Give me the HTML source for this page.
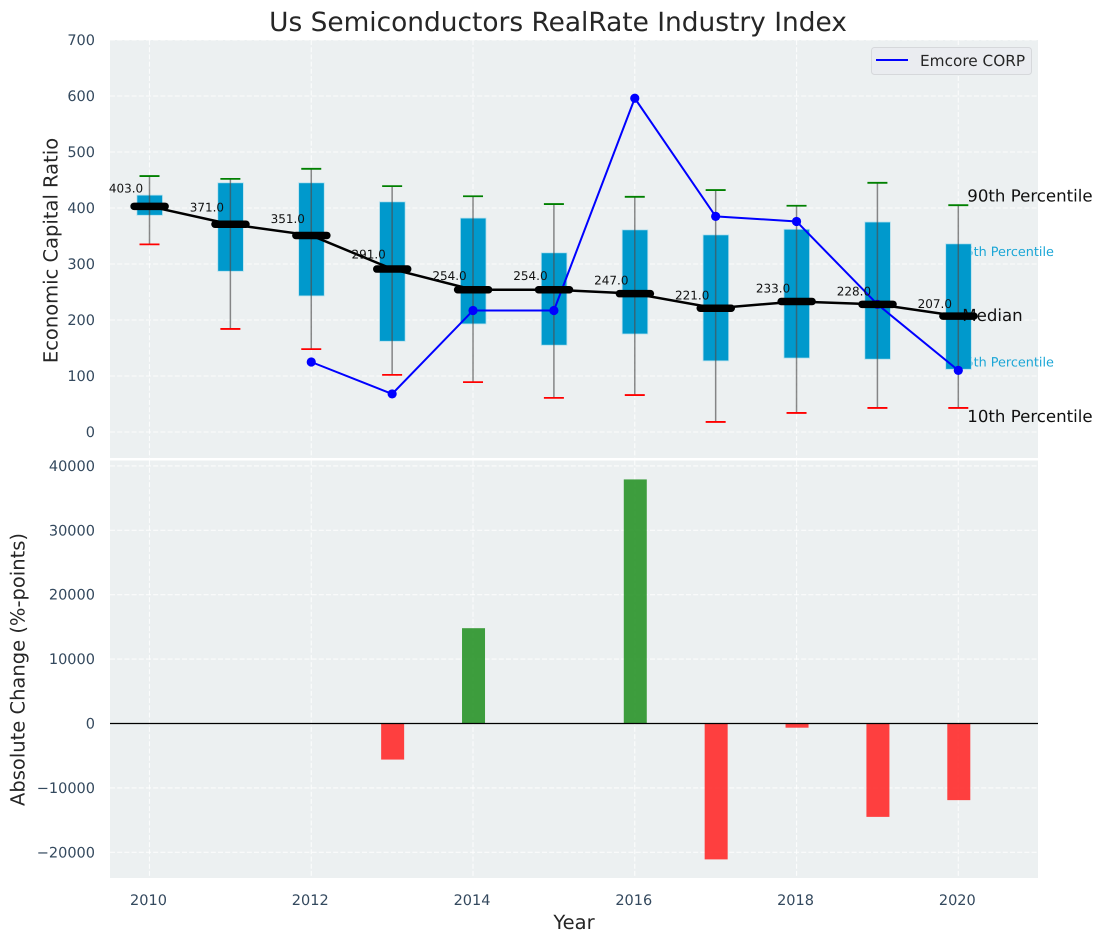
<!DOCTYPE html>
<html>
<head>
<meta charset="utf-8">
<title>Us Semiconductors RealRate Industry Index</title>
<style>
html,body{margin:0;padding:0;background:#fff;}
svg{display:block;font-family:"DejaVu Sans","Liberation Sans",sans-serif;text-rendering:geometricPrecision;}
</style>
</head>
<body>
<svg id="chart" width="1102" height="942" viewBox="0 0 1102 942" xmlns="http://www.w3.org/2000/svg">
  <rect x="110" y="40" width="928" height="418" fill="#ecf0f1"/>
  <rect x="110" y="460.5" width="928" height="417.5" fill="#ecf0f1"/>
  <text x="558" y="31" text-anchor="middle" font-size="26.4" fill="#262626">Us Semiconductors RealRate Industry Index</text>
  <text transform="translate(57.5,250.5) rotate(-90)" text-anchor="middle" font-size="19.5" fill="#262626">Economic Capital Ratio</text>
  <text transform="translate(24.5,669.5) rotate(-90)" text-anchor="middle" font-size="19.5" fill="#262626">Absolute Change (%-points)</text>
  <text x="574" y="929" text-anchor="middle" font-size="19.5" fill="#262626">Year</text>
  <g id="layer"></g>
  <g>
    <rect x="871.5" y="47.5" width="160" height="27" rx="3" fill="#eaecf0" stroke="#d6d8db"/>
    <line x1="876" x2="908" y1="60" y2="60" stroke="#0000ff" stroke-width="2"/>
    <text x="920" y="66" font-size="15.3" fill="#262626">Emcore CORP</text>
  </g>
</svg>
<script>
const years = [2010, 2011, 2012, 2013, 2014, 2015, 2016, 2017, 2018, 2019, 2020];
const p90 = [457, 452, 470, 439, 421, 407, 420, 432, 404, 445, 405];
const p75 = [423, 445, 445, 411, 382, 320, 361, 352, 362, 375, 336];
const medians = [403, 371, 351, 291, 254, 254, 247, 221, 233, 228, 207];
const p25 = [387, 287, 243, 162, 193, 155, 175, 127, 132, 130, 112];
const p10 = [335, 184, 148, 102, 89, 61, 66, 18, 34, 43, 43];
const emcore = [null, null, 125, 68, 217, 217, 596, 385, 376, 228, 110];
const changes = [null, null, null, -5600, 14800, null, 37900, -21100, -650, -14500, -11900];
const xTicks = [2010, 2012, 2014, 2016, 2018, 2020];
const topYTicks = [0, 100, 200, 300, 400, 500, 600, 700];
const bottomYTicks = [-20000, -10000, 0, 10000, 20000, 30000, 40000];

const xScale = v => 149.5 + (v - 2010) * 80.88;
const yTop = v => 432 - v * 0.56;
const yBottom = v => 723.5 - v * 0.00644;
const NS = 'http://www.w3.org/2000/svg';
const layer = document.getElementById('layer');
function make(tag, attrs, text) {
  const n = document.createElementNS(NS, tag);
  for (const k in attrs) n.setAttribute(k, attrs[k]);
  if (text !== undefined) n.textContent = text;
  layer.appendChild(n);
  return n;
}
const fmt = v => String(v).replace('-', '\u2212');
let el;

/* grid */
xTicks.forEach(t => {
  el = make('line', {x1: xScale(t), x2: xScale(t), y1: 40, y2: 458, stroke: '#fff', 'stroke-width': 1.1, 'stroke-dasharray': '5 2.2', opacity: 0.8});
  
  
  el = make('line', {x1: xScale(t), x2: xScale(t), y1: 460.5, y2: 878, stroke: '#fff', 'stroke-width': 1.1, 'stroke-dasharray': '5 2.2', opacity: 0.8});
  
  
  el = make('text', {x: xScale(t) - 1, y: 905, 'text-anchor': 'middle', 'font-size': 14.5, fill: '#34495e'}, t);
  
  
});
topYTicks.forEach(t => {
  el = make('line', {x1: 110, x2: 1038, y1: yTop(t), y2: yTop(t), stroke: '#fff', 'stroke-width': 1.1, 'stroke-dasharray': '5 2.2', opacity: 0.8});
  
  
  el = make('text', {x: 95, y: yTop(t) + 5, 'text-anchor': 'end', 'font-size': 14.5, fill: '#34495e'}, fmt(t));
  
  
});
bottomYTicks.forEach(t => {
  el = make('line', {x1: 110, x2: 1038, y1: yBottom(t), y2: yBottom(t), stroke: '#fff', 'stroke-width': 1.1, 'stroke-dasharray': '5 2.2', opacity: 0.8});
  
  
  el = make('text', {x: 95, y: yBottom(t) + 5, 'text-anchor': 'end', 'font-size': 14.5, fill: '#34495e'}, fmt(t));
  
  
});

/* labels that sit behind the boxes */
const last = years.length - 1;
const lastX = xScale(years[last]);
el = make('text', {x: lastX - 1, y: yTop(p75[last]) + 12, 'font-size': 12.8, fill: '#1ba6d6'}, '75th Percentile');


el = make('text', {x: lastX - 1, y: yTop(p25[last]) - 3, 'font-size': 12.8, fill: '#1ba6d6'}, '25th Percentile');



/* boxes */
years.forEach((yr, i) => {
  const cx = xScale(yr);
  el = make('rect', {x: cx - 12.6, y: yTop(p75[i]), width: 25.6, height: yTop(p25[i]) - yTop(p75[i]), fill: '#0099cc', stroke: '#b5e0ee', 'stroke-width': 0.8});
  
  
  el = make('line', {x1: cx, x2: cx, y1: yTop(p90[i]), y2: yTop(p10[i]), stroke: '#4d4d4d', 'stroke-width': 1.5, opacity: 0.65});
  
  
  el = make('line', {x1: cx - 10, x2: cx + 10, y1: yTop(p90[i]), y2: yTop(p90[i]), stroke: '#008000', 'stroke-width': 1.8});
  
  
  el = make('line', {x1: cx - 10, x2: cx + 10, y1: yTop(p10[i]), y2: yTop(p10[i]), stroke: '#ff0000', 'stroke-width': 1.8});
  
  
});

/* emcore series */
const emcorePoints = years.map((yr, i) => emcore[i] === null ? null : [xScale(yr), yTop(emcore[i])]).filter(Boolean);
el = make('polyline', {points: emcorePoints.map(p => p.join(',')).join(' '), fill: 'none', stroke: '#0000ff', 'stroke-width': 2});


emcorePoints.forEach(p => {
  el = make('circle', {cx: p[0], cy: p[1], r: 4.6, fill: '#0000ff'});
  
  
});

/* median line */
el = make('text', {x: lastX + 4, y: yTop(medians[last]) + 5, 'font-size': 16.6, fill: '#111'}, 'Median');


el = make('polyline', {points: years.map((yr, i) => xScale(yr) + ',' + yTop(medians[i])).join(' '), fill: 'none', stroke: '#000', 'stroke-width': 2.5});


years.forEach((yr, i) => {
  const cx = xScale(yr);
  el = make('line', {x1: cx - 15.4, x2: cx + 15.6, y1: yTop(medians[i]), y2: yTop(medians[i]), stroke: '#000', 'stroke-width': 7.5, 'stroke-linecap': 'round'});
  
  
  el = make('text', {x: cx - 23.5, y: yTop(medians[i] * 1.05) - 2.5, 'text-anchor': 'middle', 'font-size': 12, fill: '#111'}, medians[i].toFixed(1));
  
  
});

/* right side labels */
el = make('text', {x: lastX + 9, y: yTop(p90[last]) - 3.5, 'font-size': 16.6, fill: '#111'}, '90th Percentile');


el = make('text', {x: lastX + 9, y: yTop(p10[last]) + 14, 'font-size': 16.6, fill: '#111'}, '10th Percentile');



/* change bars */
years.forEach((yr, i) => {
  if (changes[i] === null) return;
  const a = yBottom(Math.max(changes[i], 0));
  const b = yBottom(Math.min(changes[i], 0));
  el = make('rect', {x: xScale(yr) - 11, y: a, width: 23, height: b - a, fill: changes[i] > 0 ? '#2e962e' : '#ff3030', opacity: 0.92});
  
  
});
el = make('line', {x1: 110, x2: 1038, y1: yBottom(0), y2: yBottom(0), stroke: '#000', 'stroke-width': 1.3});


</script>
</body>
</html>
